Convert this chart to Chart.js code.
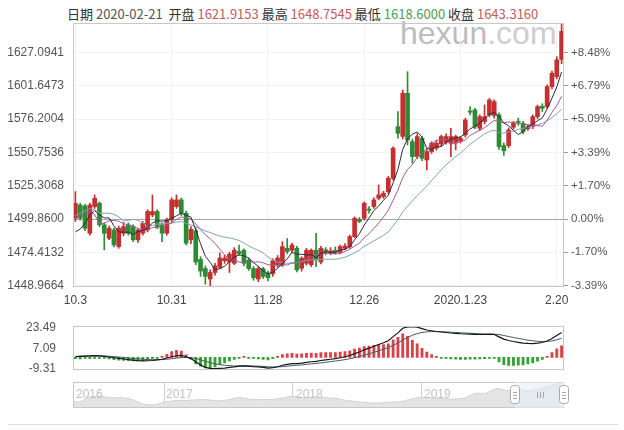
<!DOCTYPE html>
<html>
<head>
<meta charset="utf-8">
<script src="https://cdn.jsdelivr.net/npm/chart.js@4.4.0/dist/chart.umd.min.js"></script>
<style>
  body { margin: 0; background: #fff; width: 624px; height: 430px; position: relative; overflow: hidden; }
  canvas { position: absolute; left: 0; z-index: 1; }
  #head { position: absolute; left: 67px; top: 4px; font: 13px "Noto Sans CJK SC", sans-serif; color: #333; white-space: pre; }
  #logo { position: absolute; left: 400px; top: 15px; font: 32px "Liberation Sans", Arial, sans-serif; color: #bdbdbd; z-index: 0; }
  .yr { position: absolute; top: 387px; font: 12px "Liberation Sans", Arial, sans-serif; color: #c2c2c2; z-index: 2; }
  #sep { position: absolute; left: 8px; top: 424px; width: 610px; height: 1px; background: #ddd; }
</style>
</head>
<body>
<div id="logo">hexun<span style="color:#cdcdcd">.com</span></div>
<div id="head"></div>
<canvas id="kline" width="624" height="310" style="top:0"></canvas>
<canvas id="macd" width="624" height="76" style="top:310px"></canvas>
<canvas id="nav" width="624" height="26" style="top:382px"></canvas>
<span class="yr" style="left:76px">2016</span>
<span class="yr" style="left:166px">2017</span>
<span class="yr" style="left:296px">2018</span>
<span class="yr" style="left:424px">2019</span>
<div id="sep"></div>
<script>
// 日期 (交易日)
const dates = [
  "2019-10-03","2019-10-04","2019-10-07","2019-10-08","2019-10-09","2019-10-10","2019-10-11","2019-10-14","2019-10-15","2019-10-16",
  "2019-10-17","2019-10-18","2019-10-21","2019-10-22","2019-10-23","2019-10-24","2019-10-25","2019-10-28","2019-10-29","2019-10-30",
  "2019-10-31","2019-11-01","2019-11-04","2019-11-05","2019-11-06","2019-11-07","2019-11-08","2019-11-11","2019-11-12","2019-11-13",
  "2019-11-14","2019-11-15","2019-11-18","2019-11-19","2019-11-20","2019-11-21","2019-11-22","2019-11-25","2019-11-26","2019-11-27",
  "2019-11-28","2019-11-29","2019-12-02","2019-12-03","2019-12-04","2019-12-05","2019-12-06","2019-12-09","2019-12-10","2019-12-11",
  "2019-12-12","2019-12-13","2019-12-16","2019-12-17","2019-12-18","2019-12-19","2019-12-20","2019-12-23","2019-12-24","2019-12-25",
  "2019-12-26","2019-12-27","2019-12-30","2019-12-31","2020-01-01","2020-01-02","2020-01-03","2020-01-06","2020-01-07","2020-01-08",
  "2020-01-09","2020-01-10","2020-01-13","2020-01-14","2020-01-15","2020-01-16","2020-01-17","2020-01-20","2020-01-21","2020-01-22",
  "2020-01-23","2020-01-24","2020-01-27","2020-01-28","2020-01-29","2020-01-30","2020-01-31","2020-02-03","2020-02-04","2020-02-05",
  "2020-02-06","2020-02-07","2020-02-10","2020-02-11","2020-02-12","2020-02-13","2020-02-14","2020-02-17","2020-02-18","2020-02-19",
  "2020-02-20","2020-02-21"
]
const tickIdx = [0, 20, 40, 60, 80, 100]
const tickLabels = ["10.3", "10.31", "11.28", "12.26", "2020.1.23", "2.20"]

const openP = [
  1500.5,1510.6,1509.9,1489.0,1509.4,1511.9,1495.4,1485.2,1491.5,1478.8,
  1489.0,1495.4,1494.1,1483.9,1489.0,1491.5,1503.0,1505.6,1495.4,1489.0,
  1499.2,1509.4,1514.5,1504.3,1484.0,1491.0,1469.0,1462.0,1454.0,1459.0,
  1463.0,1468.0,1467.0,1466.0,1475.0,1476.0,1468.5,1462.0,1454.0,1462.0,
  1458.5,1458.0,1465.0,1465.0,1477.5,1476.0,1477.5,1462.2,1466.0,1465.0,
  1476.0,1467.0,1476.3,1474.0,1476.0,1474.5,1477.5,1478.8,1486.4,1499.5,
  1500.4,1507.5,1509.4,1515.7,1517.0,1520.8,1531.0,1570.5,1563.0,1596.0,
  1559.0,1547.6,1561.6,1545.0,1551.4,1554.0,1557.2,1558.5,1557.8,1558.5,
  1559.5,1564.1,1582.5,1583.3,1569.2,1574.3,1579.4,1579.0,1579.4,1556.0,
  1556.0,1570.0,1574.5,1573.0,1569.0,1570.5,1578.1,1586.0,1585.8,1601.1,
  1608.7,1621.9153
]
const highP = [
  1520.8,1512.0,1511.0,1512.0,1518.3,1513.0,1497.0,1494.5,1493.0,1494.5,
  1497.0,1497.0,1495.5,1493.0,1498.0,1507.0,1518.3,1507.0,1497.0,1500.5,
  1516.0,1518.3,1516.0,1506.0,1494.0,1493.0,1471.0,1464.0,1461.0,1466.0,
  1474.0,1472.0,1474.5,1478.0,1480.0,1477.0,1470.0,1463.5,1463.5,1463.0,
  1460.0,1469.5,1472.0,1482.6,1485.0,1481.5,1479.0,1471.0,1477.5,1477.0,
  1489.0,1479.0,1478.0,1478.0,1478.5,1480.0,1481.0,1487.5,1501.5,1501.0,
  1513.0,1509.4,1516.0,1525.9,1521.0,1532.5,1555.0,1582.0,1598.5,1612.5,
  1561.0,1565.0,1563.0,1553.0,1559.0,1560.0,1564.0,1565.0,1569.2,1564.0,
  1563.0,1577.0,1585.8,1584.5,1579.5,1587.1,1592.0,1591.0,1581.0,1558.0,
  1569.5,1574.5,1577.0,1574.5,1572.0,1579.5,1587.0,1588.0,1602.5,1613.0,
  1624.0,1648.7545
]
const lowP = [
  1498.0,1499.0,1491.0,1487.5,1508.0,1494.0,1476.3,1484.0,1478.5,1477.5,
  1487.0,1487.5,1482.6,1482.0,1487.5,1490.0,1501.5,1492.5,1482.6,1487.5,
  1497.5,1508.0,1502.5,1480.0,1481.0,1465.0,1456.0,1450.0,1447.5,1457.0,
  1462.0,1466.0,1459.0,1465.0,1472.0,1464.0,1460.5,1453.0,1452.0,1454.5,
  1452.5,1456.0,1463.0,1463.5,1473.5,1474.0,1459.5,1460.0,1464.5,1463.5,
  1463.5,1465.5,1472.5,1472.5,1473.0,1473.5,1476.5,1477.5,1485.5,1497.0,
  1499.0,1504.3,1508.0,1514.5,1515.7,1519.5,1529.5,1561.6,1561.0,1556.5,
  1542.5,1546.0,1544.5,1537.4,1550.0,1552.5,1555.5,1557.0,1547.6,1552.7,
  1558.0,1562.5,1579.5,1569.0,1567.5,1572.5,1578.0,1577.0,1553.0,1548.5,
  1554.5,1568.5,1571.5,1565.0,1567.5,1569.0,1576.5,1582.0,1584.5,1599.5,
  1607.0,1618.6
]
const closeP = [
  1511.9,1500.5,1492.8,1510.6,1515.7,1495.4,1489.0,1492.8,1480.1,1492.8,
  1494.1,1489.0,1484.0,1491.5,1496.6,1505.6,1505.6,1494.1,1489.0,1499.2,
  1514.5,1514.5,1504.3,1481.4,1492.0,1467.0,1460.0,1456.0,1459.0,1464.0,
  1470.0,1470.0,1473.0,1476.0,1473.5,1466.0,1462.0,1455.0,1462.0,1456.0,
  1455.0,1468.0,1470.0,1478.8,1475.0,1480.0,1461.0,1469.9,1476.0,1476.0,
  1468.6,1477.5,1474.8,1475.5,1474.5,1478.8,1479.2,1486.4,1500.4,1498.0,
  1511.9,1506.5,1514.5,1518.3,1519.6,1531.0,1554.0,1565.4,1596.0,1560.3,
  1547.6,1562.9,1546.3,1551.4,1557.8,1557.8,1562.9,1562.9,1562.9,1562.9,
  1561.6,1575.6,1581.5,1570.5,1578.1,1578.1,1590.9,1589.6,1555.2,1552.0,
  1568.0,1573.0,1573.8,1566.7,1570.5,1578.1,1585.8,1584.5,1601.1,1611.3,
  1621.5,1643.316
]
// 均线
const ma5 = [
  1490.0,1492.3,1496.4,1503.0,1506.3,1503.0,1500.7,1500.7,1494.6,1490.0,
  1489.8,1489.8,1488.0,1490.3,1491.0,1493.3,1496.7,1498.7,1498.2,1498.7,
  1500.5,1502.3,1504.3,1502.8,1501.3,1491.8,1480.9,1471.3,1466.8,1461.2,
  1461.8,1463.8,1467.2,1470.6,1472.5,1471.7,1470.1,1466.5,1463.7,1460.2,
  1458.0,1459.2,1462.2,1465.6,1469.4,1474.4,1473.0,1472.9,1472.4,1472.6,
  1470.3,1473.6,1474.6,1474.5,1474.2,1476.2,1476.6,1478.9,1483.9,1488.6,
  1495.2,1500.6,1506.3,1509.8,1514.2,1518.0,1527.5,1537.7,1553.2,1561.3,
  1564.7,1566.4,1562.6,1553.7,1553.2,1555.2,1555.2,1558.6,1560.9,1561.9,
  1562.6,1565.2,1568.9,1570.4,1573.5,1576.8,1579.8,1581.4,1578.4,1573.2,
  1571.1,1567.6,1564.4,1566.7,1570.4,1572.4,1575.0,1577.1,1584.0,1592.2,
  1600.8,1612.3
]
const ma10 = [
  1500.0,1502.2,1504.7,1505.5,1503.2,1496.5,1496.5,1498.6,1498.8,1498.2,
  1496.4,1495.3,1494.4,1492.5,1490.5,1491.6,1493.3,1493.4,1494.3,1494.9,
  1496.9,1499.5,1501.5,1500.5,1500.0,1496.2,1491.6,1487.8,1484.8,1481.3,
  1476.8,1472.4,1469.3,1468.7,1466.9,1466.8,1467.0,1466.9,1467.2,1466.4,
  1464.9,1464.7,1464.4,1464.7,1464.8,1466.2,1466.1,1467.6,1469.0,1471.0,
  1472.4,1473.3,1473.8,1473.5,1473.4,1473.3,1475.1,1476.8,1479.2,1481.4,
  1485.7,1488.6,1492.6,1496.9,1501.4,1506.6,1514.1,1522.0,1531.5,1537.8,
  1541.4,1547.0,1550.2,1553.5,1557.3,1560.0,1560.8,1560.6,1557.3,1557.6,
  1558.9,1560.2,1563.8,1565.7,1567.7,1569.7,1572.5,1575.2,1574.4,1573.4,
  1574.0,1573.7,1572.9,1572.6,1571.8,1571.8,1571.3,1570.8,1575.4,1581.3,
  1586.6,1593.7
]
const ma20 = [
  1502.5,1504.1,1506.4,1507.8,1507.1,1504.3,1504.3,1504.3,1503.4,1501.6,
  1498.2,1498.8,1499.6,1499.0,1496.9,1494.1,1494.9,1496.0,1496.6,1496.6,
  1496.7,1497.4,1498.0,1496.5,1495.3,1493.9,1492.5,1490.6,1489.6,1488.1,
  1486.9,1486.0,1485.4,1484.6,1483.5,1481.5,1479.3,1477.4,1476.0,1473.9,
  1470.9,1468.6,1466.9,1466.7,1465.9,1466.5,1466.6,1467.3,1468.1,1468.7,
  1468.7,1469.0,1469.1,1469.1,1469.1,1469.8,1470.6,1472.2,1474.1,1476.2,
  1479.1,1481.0,1483.2,1485.2,1487.4,1490.0,1494.6,1499.4,1505.4,1509.6,
  1513.6,1517.8,1521.4,1525.2,1529.4,1533.3,1537.5,1541.3,1544.4,1547.7,
  1550.2,1553.6,1557.0,1559.6,1562.5,1564.9,1566.7,1567.9,1565.9,1565.5,
  1566.5,1567.0,1568.4,1569.2,1569.8,1570.8,1571.9,1573.0,1574.9,1577.4,
  1580.3,1583.7
]
// MACD
const dif = [
  0.5,0.8,1.0,1.2,1.4,1.2,0.8,0.3,-0.3,-0.8,
  -1.3,-1.8,-2.2,-2.6,-2.8,-2.7,-2.5,-2.0,-1.5,-0.5,
  0.5,1.3,1.5,0.5,-1.0,-3.5,-6.0,-8.0,-8.8,-8.9,
  -8.7,-8.5,-8.0,-7.6,-7.0,-6.8,-6.9,-7.3,-7.6,-8.0,
  -8.5,-8.2,-7.5,-6.3,-5.6,-5.0,-5.0,-4.6,-4.0,-3.5,
  -3.2,-2.5,-2.0,-1.5,-1.0,-0.3,0.5,1.5,3.0,4.3,
  6.0,7.3,8.8,10.2,11.6,13.2,16.5,19.5,23.2,24.3,
  24.4,24.0,22.9,21.8,21.2,20.6,20.2,19.8,19.4,19.1,
  18.8,18.6,18.5,18.3,18.2,18.2,18.3,18.2,16.3,14.5,
  13.4,12.6,12.0,11.4,11.1,11.0,11.3,11.8,13.0,15.0,
  17.4,19.8
]
const dea = [
  0.8,0.9,1.0,1.1,1.2,1.2,1.1,0.9,0.6,0.3,
  -0.1,-0.5,-0.8,-1.2,-1.5,-1.7,-1.9,-1.9,-1.8,-1.5,
  -1.1,-0.6,-0.2,-0.1,-0.3,-0.9,-1.9,-3.1,-4.2,-5.1,
  -5.8,-6.3,-6.6,-6.8,-6.8,-6.8,-6.8,-6.9,-7.0,-7.2,
  -7.5,-7.7,-7.6,-7.4,-7.0,-6.6,-6.3,-6.0,-5.6,-5.2,
  -4.8,-4.4,-3.9,-3.4,-2.9,-2.4,-1.8,-1.1,-0.3,0.6,
  1.7,2.8,4.0,5.2,6.5,7.8,9.5,11.5,13.8,15.9,
  17.6,18.9,19.8,20.3,20.5,20.5,20.4,20.2,20.0,19.8,
  19.6,19.4,19.2,19.0,18.8,18.7,18.6,18.5,18.1,17.4,
  16.6,15.8,15.1,14.4,13.7,13.2,12.8,12.6,12.7,13.1,
  14.0,15.2
]
const macdBar = [
  -1.0,-1.2,-0.8,-1.0,-0.4,-0.6,-0.8,-1.2,-1.8,-2.2,
  -2.4,-2.6,-2.8,-2.8,-2.6,-2.0,-1.2,-0.2,0.6,2.4,
  4.6,5.6,5.0,2.0,-1.4,-5.2,-7.0,-8.4,-8.6,-7.6,
  -5.8,-4.4,-2.8,-1.6,-0.4,0.3,-0.2,-0.8,-1.2,-1.6,
  -2.0,-1.0,0.2,2.2,2.8,3.2,2.6,2.8,3.2,3.4,
  3.2,3.8,3.8,3.8,3.8,4.2,4.6,5.2,6.6,7.4,
  8.6,9.0,9.6,10.0,10.2,10.8,14.0,16.0,18.8,16.8,
  13.6,10.8,7.2,4.2,2.2,0.6,-0.4,-0.8,-1.2,-1.4,
  -1.6,-1.6,-1.4,-1.4,-1.2,-1.0,-0.6,-0.6,-3.6,-5.8,
  -6.4,-6.4,-6.2,-6.0,-5.2,-4.4,-3.0,-1.6,0.6,3.8,
  6.8,9.2
]
// 纵轴刻度
const priceTicks = [1448.9664, 1474.4132, 1499.8600, 1525.3068, 1550.7536, 1576.2004, 1601.6473, 1627.0941]
const basePrice = 1499.86
const macdTicks = [-9.31, 7.09, 23.49]
// 导航条 (月份编号, 2016年1月 = 0)
const navMonths = [3,4,5,6,7,8,9,10,11,12,13,14,15,16,17,18,19,20,21,22,23,24,25,26,27,28,29,30,31,32,33,34,35,36,37,38,39,40,41,42,43,44,45,46,47,48,49]
const navValues = [
  1292,1215,1320,1350,1310,1315,1275,1175,1150,
  1210,1250,1250,1268,1268,1242,1268,1320,1280,1270,1275,1303,
  1345,1318,1325,1315,1300,1252,1224,1200,1192,1215,1222,1282,
  1321,1313,1292,1283,1305,1409,1413,1520,1472,1512,1463,1517,
  1589,1643
]

const RED = "#c4302f"
const GREEN = "#2e8b35"
const last = dates.length - 1

// 顶部信息栏
document.getElementById("head").innerHTML =
  '日期 <span style="color:#555">' + dates[last] + '</span>  ' +
  '开盘 <span style="color:#c65a5c">' + openP[last].toFixed(4) + '</span> ' +
  '最高 <span style="color:#c65a5c">' + highP[last].toFixed(4) + '</span> ' +
  '最低 <span style="color:#4f9d4f">' + lowP[last].toFixed(4) + '</span> ' +
  '收盘 <span style="color:#c65a5c">' + closeP[last].toFixed(4) + '</span>'

Chart.defaults.font.family = "'Liberation Sans', Arial, sans-serif"
Chart.defaults.font.size = 12
Chart.defaults.color = "#555"
Chart.defaults.animation = false
Chart.defaults.responsive = false
Chart.defaults.devicePixelRatio = 1
Chart.defaults.plugins.legend.display = false
Chart.defaults.plugins.tooltip.enabled = false

// 画边框
const boxPlugin = {
  id: "box",
  afterDraw(chart) {
    let a = chart.chartArea, c = chart.ctx
    c.save()
    c.strokeStyle = "#c8c8c8"
    c.lineWidth = 1
    c.strokeRect(Math.round(a.left) + 0.5, Math.round(a.top) + 0.5, Math.round(a.right - a.left) - 1, Math.round(a.bottom - a.top) - 1)
    c.restore()
  }
}

function candleColor(ctx) {
  let i = ctx.dataIndex
  return closeP[i] >= openP[i] ? RED : GREEN
}

let wicks = lowP.map((l, i) => [l, highP[i]])
let bodies = openP.map((o, i) => [o, closeP[i]])

new Chart(document.getElementById("kline"), {
  type: "bar",
  data: {
    labels: dates,
    datasets: [
      { type: "line", label: "MA5", data: ma5, borderColor: "#2b2b3b", borderWidth: 1, pointRadius: 0, order: 0 },
      { type: "line", label: "MA10", data: ma10, borderColor: "#a35a95", borderWidth: 1, pointRadius: 0, order: 0 },
      { type: "line", label: "MA20", data: ma20, borderColor: "#80a4b4", borderWidth: 1, pointRadius: 0, order: 0 },
      { label: "body", data: bodies, backgroundColor: candleColor, barThickness: 4, grouped: false, minBarLength: 1, order: 1 },
      { label: "wick", data: wicks, backgroundColor: candleColor, barThickness: 1, grouped: false, order: 2 }
    ]
  },
  options: {
    layout: { padding: { top: 23, left: 0, right: 0, bottom: 0 } },
    scales: {
      x: {
        offset: true,
        grid: { offset: false, drawTicks: false, color: ctx => tickIdx.includes(ctx.index) ? "#f1f1f1" : "rgba(0,0,0,0)" },
        border: { display: false },
        ticks: {
          autoSkip: false, maxRotation: 0, padding: 6, color: "#444",
          callback: (v, i) => tickIdx.includes(i) ? tickLabels[tickIdx.indexOf(i)] : ""
        },
        afterFit: s => { s.height = 23 }
      },
      y: {
        min: 1447.9, max: 1649.7,
        afterBuildTicks: s => { s.ticks = priceTicks.map(v => ({ value: v })) },
        grid: { drawTicks: false, color: ctx => ctx.tick && Math.abs(ctx.tick.value - basePrice) < 0.01 ? "#a8a8a8" : "#f2f2f2" },
        border: { display: false },
        ticks: { padding: 9, callback: v => v.toFixed(4) },
        afterFit: s => { s.width = 73 }
      },
      y2: {
        position: "right",
        min: 1447.9, max: 1649.7,
        afterBuildTicks: s => { s.ticks = priceTicks.map(v => ({ value: v })) },
        grid: { drawOnChartArea: false, tickLength: 4, color: "#999" },
        border: { display: false },
        ticks: {
          padding: 3, font: { size: 11.5 },
          callback: v => {
            let p = (v / basePrice - 1) * 100
            return (p > 0.001 ? "+" : "") + p.toFixed(2) + "%"
          }
        },
        afterFit: s => { s.width = 60 }
      }
    }
  },
  plugins: [boxPlugin]
})

new Chart(document.getElementById("macd"), {
  type: "bar",
  data: {
    labels: dates,
    datasets: [
      { type: "line", label: "DIF", data: dif, borderColor: "#161616", borderWidth: 1.2, pointRadius: 0, order: 0 },
      { type: "line", label: "DEA", data: dea, borderColor: "#3e5d6b", borderWidth: 1, pointRadius: 0, order: 0 },
      { label: "MACD", data: macdBar, backgroundColor: ctx => macdBar[ctx.dataIndex] >= 0 ? "#d8434a" : "#36a336", barThickness: 2.2, minBarLength: 1, order: 1 }
    ]
  },
  options: {
    layout: { padding: { top: 13, left: 0, right: 60, bottom: 4 } },
    scales: {
      x: { offset: true, display: false },
      y: {
        min: -9.9, max: 24.8,
        afterBuildTicks: s => { s.ticks = macdTicks.map(v => ({ value: v })) },
        grid: { display: false },
        border: { display: false },
        ticks: { padding: 9, callback: v => v.toFixed(2) },
        afterFit: s => { s.width = 73 }
      }
    }
  },
  plugins: [boxPlugin]
})

// 导航条的选区和把手
const navPlugin = {
  id: "navSel",
  afterDraw(chart) {
    let a = chart.chartArea, c = chart.ctx
    let x1 = 515, x2 = 564, my = (a.top + a.bottom) / 2
    c.save()
    c.fillStyle = "rgba(228,238,246,0.6)"
    c.fillRect(x1, a.top, x2 - x1, a.bottom - a.top)
    c.strokeStyle = "#a8a8a8"
    c.lineWidth = 1
    for (let x of [x1, x2]) {
      c.fillStyle = "#fff"
      c.beginPath()
      c.roundRect(x - 4.5, my - 9.5, 9, 18, 3)
      c.fill()
      c.stroke()
      for (let k = -3; k <= 3; k += 3) {
        c.beginPath()
        c.moveTo(x - 2, my + k + 0.5)
        c.lineTo(x + 2, my + k + 0.5)
        c.stroke()
      }
    }
    for (let k = -3; k <= 3; k += 3) {
      c.beginPath()
      c.moveTo(540.5 + k, my - 3)
      c.lineTo(540.5 + k, my + 3)
      c.stroke()
    }
    c.restore()
  }
}

new Chart(document.getElementById("nav"), {
  type: "line",
  data: {
    datasets: [{
      data: navMonths.map((m, i) => ({ x: m, y: navValues[i] })),
      borderColor: "#d2d2d2", borderWidth: 1, backgroundColor: "#e4e4e4",
      fill: "start", pointRadius: 0, tension: 0.3
    }]
  },
  options: {
    layout: { padding: { top: 0, left: 73, right: 60, bottom: 0 } },
    scales: {
      x: {
        type: "linear", min: 3.5, max: 49.3,
        afterBuildTicks: s => { s.ticks = [12, 24, 36].map(v => ({ value: v })) },
        grid: { drawTicks: false, color: "#cfcfcf" },
        border: { display: false },
        ticks: { display: false },
        afterFit: s => { s.height = 0 }
      },
      y: { display: false, min: 1083, max: 1665 }
    }
  },
  plugins: [boxPlugin, navPlugin]
})
</script>
</body>
</html>
